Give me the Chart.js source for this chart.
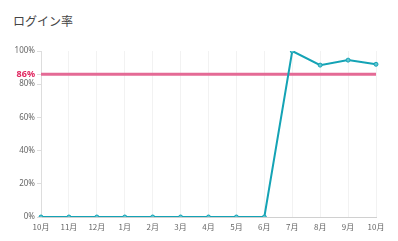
<!DOCTYPE html>
<html>
<head>
<meta charset="utf-8">
<script src="https://cdn.jsdelivr.net/npm/chart.js@4/dist/chart.umd.min.js"></script>
<style>
  html, body { margin: 0; padding: 0; background: #fff; }
  #wrap { position: relative; width: 398px; height: 241px; }
  #title { position: absolute; left: 13px; top: 12px; font: 12px "Noto Sans CJK JP", sans-serif; color: #444; }
  canvas { position: absolute; left: 0; top: 0; }
</style>
</head>
<body>
<div id="wrap">
  <div id="title">ログイン率</div>
  <canvas id="chart" width="398" height="241"></canvas>
</div>
<script>
const months = ['10月', '11月', '12月', '1月', '2月', '3月', '4月', '5月', '6月', '7月', '8月', '9月', '10月'];
const loginRate = [0, 0, 0, 0, 0, 0, 0, 0, 0, 100, 91.5, 94.5, 92];
const targetRate = 86;
const yTicks = [0, 20, 40, 60, 80, 86, 100];

const ctx = document.getElementById('chart');

new Chart(ctx, {
    type: 'line',
    data: {
        labels: months,
        datasets: [{
            label: 'login',
            data: loginRate,
            borderColor: '#14a3b5',
            backgroundColor: '#5fc4d0',
            borderWidth: 2,
            pointRadius: 2,
            pointBorderWidth: 1,
            tension: 0,
            order: 1
        }, {
            label: 'target',
            data: months.map(() => targetRate),
            borderColor: '#e46a95',
            borderWidth: 3,
            pointRadius: 0,
            tension: 0,
            order: 2
        }]
    },
    options: {
        responsive: false,
        animation: false,
        layout: { padding: { top: 51, right: 22, left: 0, bottom: 0 } },
        plugins: {
            legend: { display: false },
            tooltip: { enabled: false }
        },
        scales: {
            x: {
                grid: { color: '#f2f2f2', drawTicks: false },
                border: { color: '#d0d0d0' },
                ticks: {
                    color: '#666',
                    font: { size: 8, family: 'Noto Sans CJK JP' },
                    maxRotation: 0,
                    padding: 5
                },
                afterFit: function(scale) { scale.height = 24; }
            },
            y: {
                min: 0,
                max: 100,
                grid: { drawOnChartArea: false, tickLength: 4, color: '#ddd' },
                border: { color: '#ddd' },
                afterBuildTicks: function(scale) {
                    scale.ticks = yTicks.map(v => ({ value: v }));
                },
                ticks: {
                    color: function(c) { return c.tick.value === targetRate ? '#e0245e' : '#666'; },
                    font: function(c) {
                        return c.tick && c.tick.value === targetRate
                            ? { size: 9, weight: 'bold', family: 'Noto Sans' }
                            : { size: 8, family: 'Noto Sans' };
                    },
                    padding: 2,
                    callback: function(value) { return value + '%'; }
                },
                afterFit: function(scale) { scale.width = 41; }
            }
        }
    }
});
</script>
</body>
</html>
